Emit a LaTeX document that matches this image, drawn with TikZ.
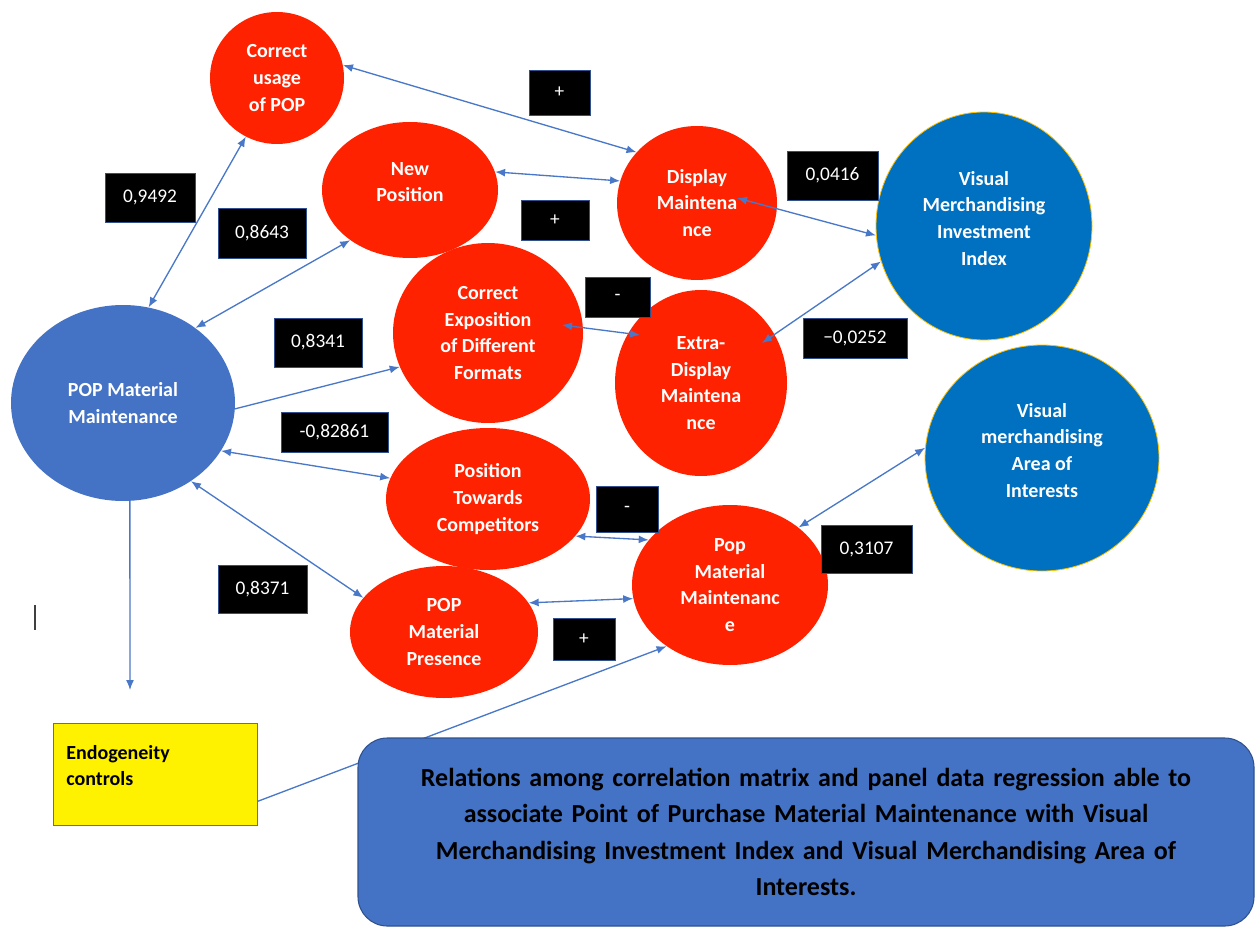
\documentclass[tikz,border=0pt]{standalone}
\usepackage{fontspec}
\setmainfont{Carlito}
\usetikzlibrary{arrows.meta,shapes.geometric,calc}
\definecolor{popred}{HTML}{FF2200}
\definecolor{popblue}{HTML}{4472C4}
\definecolor{vmblue}{HTML}{0070C0}
\definecolor{vmgold}{HTML}{FFC000}
\definecolor{boxedge}{HTML}{2F528F}
\definecolor{linkblue}{HTML}{4A78C8}
\begin{document}
\begin{tikzpicture}[x=0.75pt,y=-0.75pt,
    >={Latex[length=7.5pt,width=6pt]},
    factor/.style={ellipse,fill=popred,text=white,inner sep=0pt,align=center,
        font=\bfseries\fontsize{15}{20}\selectfont},
    outcome/.style={ellipse,fill=vmblue,draw=vmgold,line width=0.6pt,text=white,inner sep=0pt,
        align=center,font=\bfseries\fontsize{15}{20}\selectfont},
    coefbox/.style={fill=black,draw=boxedge,line width=0.6pt,text=white,inner sep=0pt,
        font=\fontsize{14.5}{17}\selectfont},
    link/.style={draw=linkblue,line width=1pt}]
    \useasboundingbox (0,0) rectangle (1256,927);

    % constructs
    \node[factor,minimum width=100.5pt,minimum height=99pt] (usage) at (277,78) {Correct\\usage\\of POP};
    \node[factor,minimum width=132pt,minimum height=102pt,text depth=12pt] (newpos) at (410,190) {New\\Position};
    \node[factor,minimum width=120pt,minimum height=115.5pt] (display) at (697,203) {Display\\Maintena\\nce};
    \node[outcome,minimum width=162pt,minimum height=171pt,text depth=12pt] (vmii) at (984,226) {Visual\\Merchandising\\Investment\\Index};
    \node[factor,minimum width=142.5pt,minimum height=135pt] (expo) at (488,333) {Correct\\Exposition\\of Different\\Formats};
    \node[factor,minimum width=129pt,minimum height=139.5pt] (extra) at (701,383) {Extra-\\Display\\Maintena\\nce};
    \node[ellipse,fill=popblue,text=white,inner sep=0pt,align=center,font=\bfseries\fontsize{15}{20}\selectfont,
        minimum width=168pt,minimum height=147pt] (popmm) at (123,403) {POP Material\\Maintenance};
    \node[factor,minimum width=153pt,minimum height=106.5pt] (towards) at (488,499) {Position\\Towards\\Competitors};
    \node[outcome,minimum width=175.5pt,minimum height=169.5pt,text depth=12pt] (vmai) at (1042,458) {Visual\\merchandising\\Area of\\Interests};
    \node[factor,minimum width=147pt,minimum height=120pt] (popmaint) at (730,585) {Pop\\Material\\Maintenanc\\e};
    \node[factor,minimum width=141pt,minimum height=99pt] (presence) at (444,632) {POP\\Material\\Presence};
    \node[fill=yellow,draw=popblue,line width=0.6pt,align=left,text width=133pt,inner xsep=10pt,
        minimum height=76.5pt,text depth=33pt,font=\bfseries\fontsize{15}{20}\selectfont] (endo) at (155,774) {Endogeneity\\controls};
    \coordinate (endotop) at (130,690);

    % links
    \draw[link,<->] (usage.11) -- (display.140);
    \draw[link,<->] (newpos.12) -- (display.164);
    \draw[link,<->] (popmm.75) -- (usage.242);
    \draw[link,<->] (popmm.46) -- (newpos.220);
    \draw[link,->] (popmm.357) -- (expo.201);
    \draw[link,<->] (popmm.334) -- (towards.168);
    \draw[link,<->] (popmm.311) -- (presence.157);
    \draw[link,->] (popmm.274) -- (endotop);
    \draw[link,<->] ($(display)+(40,-5)$) -- (vmii.185);
    \draw[link,<->] ($(expo)+(74,-8)$) -- ($(extra)+(-61,-48)$);
    \draw[link,<->] ($(extra)+(61,-40)$) -- (vmii.199);
    \draw[link,<->] (towards.337) -- (popmaint.151);
    \draw[link,<->] (presence.19) -- (popmaint.188);
    \draw[link,<->] (popmaint.40) -- (vmai.175);
    \draw[link,->] (endo.345) -- (popmaint.224);

    \node[fill=popblue,draw=boxedge,line width=0.8pt,rounded corners=22pt,minimum width=672pt,minimum height=141pt,
        inner sep=0pt,text width=640pt,align=center,font=\bfseries\fontsize{19.5}{27.4}\selectfont] (summary) at (806,832)
        {Relations among correlation matrix and panel data regression able to\\
         associate Point of Purchase Material Maintenance with Visual\\
         Merchandising Investment Index and Visual Merchandising Area of\\
         Interests.};

    % coefficients
    \node[coefbox,minimum width=45.75pt,minimum height=33.75pt] (plusa) at (559.5,92.5) {+};
    \node[coefbox,minimum width=67.5pt,minimum height=36.75pt] (cusage) at (150,197.5) {0,9492};
    \node[coefbox,minimum width=66pt,minimum height=37.5pt] (cnewpos) at (262,233) {0,8643};
    \node[coefbox,minimum width=51pt,minimum height=30pt] (plusb) at (555,220) {+};
    \node[coefbox,minimum width=68.25pt,minimum height=36.75pt] (cdisplay) at (832.5,175.5) {0,0416};
    \node[coefbox,minimum width=48.75pt,minimum height=30pt] (minusa) at (617.5,297) {-};
    \node[coefbox,minimum width=66pt,minimum height=36.75pt] (cexpo) at (318,342.5) {0,8341};
    \node[coefbox,minimum width=78pt,minimum height=30pt] (cextra) at (855,338) {−0,0252};
    \node[coefbox,minimum width=80.25pt,minimum height=30pt] (ctowards) at (334.5,432) {-0,82861};
    \node[coefbox,minimum width=46.5pt,minimum height=34.5pt] (minusb) at (627,509) {-};
    \node[coefbox,minimum width=68.25pt,minimum height=36pt] (cpopmaint) at (866.5,549) {0,3107};
    \node[coefbox,minimum width=66.75pt,minimum height=36pt] (cpresence) at (262.5,589) {0,8371};
    \node[coefbox,minimum width=46.5pt,minimum height=31.5pt] (plusc) at (584,639) {+};

    \draw[black!75,line width=0.8pt] (35,605) -- (35,630);
\end{tikzpicture}
\end{document}
